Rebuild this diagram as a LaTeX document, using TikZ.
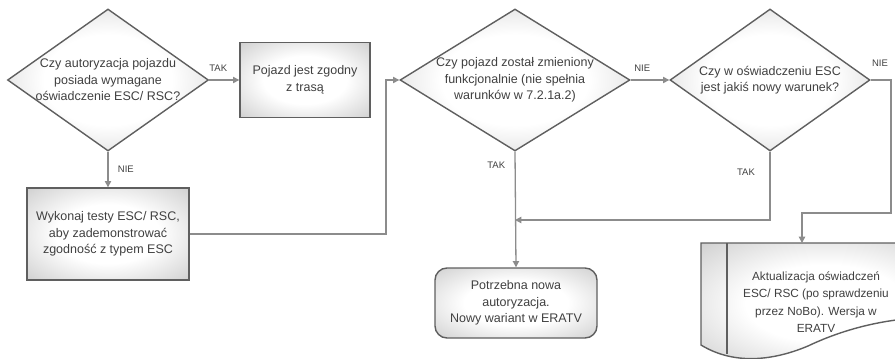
\documentclass[tikz,border=0pt]{standalone}
\usepackage{fontspec}
\setmainfont{Liberation Sans}
\usetikzlibrary{arrows.meta,shapes.geometric}
\definecolor{framegray}{HTML}{5F5F5F}
\definecolor{linegray}{HTML}{8C8C8C}
\definecolor{textgray}{HTML}{404040}
\pgfdeclareradialshading{glow}{\pgfpoint{0bp}{0bp}}{color(0bp)=(white); color(16bp)=(white); color(32bp)=(gray!30); color(42bp)=(gray!50); color(50bp)=(gray!62); color(72bp)=(gray!70)}

\begin{document}
\begin{tikzpicture}[x=1pt, y=-1pt, >={Triangle[length=2.2mm,width=2.2mm]},
	every node/.style={font=\fontsize{12.5}{16.5}\selectfont, text=textgray, align=center},
	shaded/.style={draw=framegray, line width=1.4pt, shading=glow},
	decision/.style={shaded, diamond, inner sep=0pt},
	process/.style={shaded, rectangle, inner sep=2pt},
	flow/.style={->, draw=linegray, line width=1.3pt},
	answer/.style={font=\fontsize{9.5}{11}\selectfont}]
	\useasboundingbox (0,0) rectangle (895,359);
	% decisions
	\node[decision, minimum width=201pt, minimum height=142pt] (d1) at (108,80) {};
	\node (q1) at (d1) {Czy autoryzacja pojazdu\\posiada wymagane\\oświadczenie ESC/ RSC?};
	\node[decision, minimum width=230pt, minimum height=142pt] (d2) at (515,80) {};
	\node (q2) at (d2) {Czy pojazd został zmieniony\\funkcjonalnie (nie spełnia\\warunków w 7.2.1a.2)};
	\node[decision, minimum width=200pt, minimum height=142pt] (d3) at (770,80) {};
	\node (q3) at (d3) {Czy w oświadczeniu ESC\\jest jakiś nowy warunek?};
	% boxes
	\node[process, minimum width=130pt, minimum height=75pt] (b1) at (305,80) {Pojazd jest zgodny\\z trasą};
	\node[process, minimum width=162pt, minimum height=92pt] (b2) at (108,234) {Wykonaj testy ESC/ RSC,\\aby zademonstrować\\zgodność z typem ESC};
	\node[process, rounded corners=12pt, minimum width=162pt, minimum height=70pt] (e1) at (516,303) {Potrzebna nowa\\autoryzacja.\\Nowy wariant w ERATV};
	% document, cut by the page edge
	\begin{scope}
		\clip (0,0) rectangle (895,359);
		\path[shaded] (701,243) -- (950,243) -- (950,318) .. controls (900,315) and (850,326) .. (808,346) .. controls (770,362) and (732,364) .. (701,345) -- cycle;
		\draw[framegray, line width=1.4pt] (727,243) -- (727,354);
	\end{scope}
	\node[font=\fontsize{11.8}{17.5}\selectfont] (doc) at (816,302) {Aktualizacja oświadczeń\\ESC/ RSC (po sprawdzeniu\\przez NoBo). Wersja w\\ERATV};
	\coordinate (doctop) at (802,243);
	% connectors
	\coordinate (k1) at (386,234);
	\coordinate (k2) at (770,220);
	\coordinate (k3) at (891,213);
	\draw[flow] (d1.east) -- (b1.west) node[answer, pos=0.3, above=5pt] (t1) {TAK};
	\draw[flow] (d1.south) -- (b2.north) node[answer, midway, right=6pt] (n1) {NIE};
	\draw[flow] (b2.east) -- (k1) |- (d2.west);
	\draw[flow] (d2.east) -- (d3.west) node[answer, pos=0.3, above=5pt] (n2) {NIE};
	\draw[flow] (d2.south) -- (e1.north) node[answer, pos=0.12, left=6pt] (t2) {TAK};
	\draw[flow] (d3.south) -- (k2) -- (k2 -| d2.south);
	\node[answer] (t3) at (746,172) {TAK};
	\draw[flow] (d3.east) -| (k3) -| (doctop);
	\node[answer] (n3) at (880,63) {NIE};
\end{tikzpicture}
\end{document}
